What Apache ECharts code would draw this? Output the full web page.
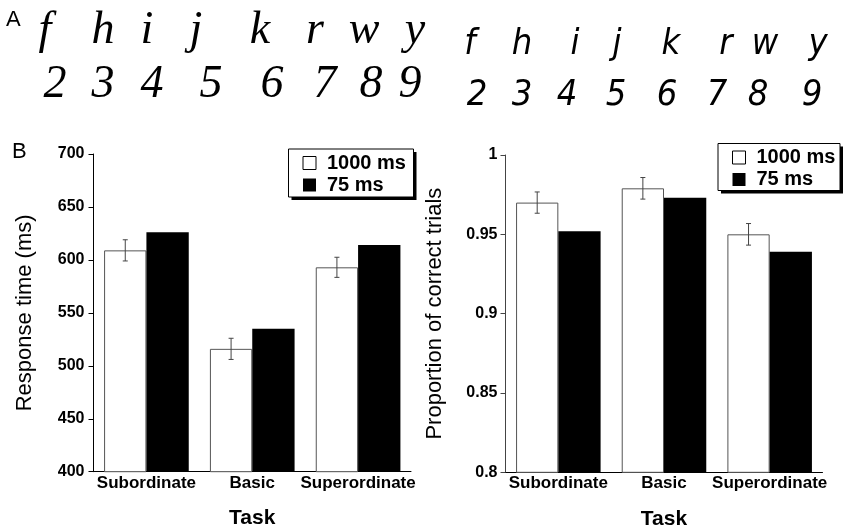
<!DOCTYPE html>
<html>
<head>
<meta charset="utf-8">
<script src="https://cdn.jsdelivr.net/npm/echarts@6/dist/echarts.min.js"></script>
<style>
  html, body { margin: 0; padding: 0; background: #fff; }
  #main { width: 845px; height: 528px; }
</style>
</head>
<body>
<div id="main"></div>
<script>
// task categories
var taskNames = ['Subordinate', 'Basic', 'Superordinate'];
var seriesNames = ['1000 ms', '75 ms'];

// response time (ms)
var rt1000 = [609, 516, 593];
var rt75 = [626, 535, 614];
var rt1000Err = [10, 10, 9.5];

// proportion of correct trials
var acc1000 = [0.970, 0.979, 0.950];
var acc75 = [0.952, 0.973, 0.939];
var acc1000Err = [0.0067, 0.0068, 0.0068];

// panel A glyphs
var letters = ['f', 'h', 'i', 'j', 'k', 'r', 'w', 'y'];
var digits = ['2', '3', '4', '5', '6', '7', '8', '9'];

var chart = echarts.init(document.getElementById('main'));

var labelFont = 'Liberation Sans, Arial, Helvetica, sans-serif';

function errorBar(params, api) {
  var i = api.value(0), v = api.value(1), e = api.value(2);
  var band = api.size([1, 0])[0];
  var cx = api.coord([i, v])[0] - band * 0.2;
  var hi = api.coord([i, v + e])[1];
  var lo = api.coord([i, v - e])[1];
  var st = { stroke: '#444', lineWidth: 1 };
  return {
    type: 'group',
    children: [
      { type: 'line', shape: { x1: cx, y1: hi, x2: cx, y2: lo }, style: st },
      { type: 'line', shape: { x1: cx - 2.5, y1: hi, x2: cx + 2.5, y2: hi }, style: st },
      { type: 'line', shape: { x1: cx - 2.5, y1: lo, x2: cx + 2.5, y2: lo }, style: st }
    ]
  };
}

function errData(vals, errs) {
  var out = [];
  for (var i = 0; i < vals.length; i++) out.push([i, vals[i], errs[i]]);
  return out;
}

// glyph layout for panel A
var scriptLetterX = [45, 103, 147, 196, 260, 315, 364, 415];
var scriptDigitX = [55, 103, 152, 211, 272, 325, 371, 410];
var sansLetterX = [470, 522, 575, 617, 671, 726, 765, 818];
var sansDigitX = [477, 522, 567, 616, 667, 717, 758, 812];

var graphics = [];
function addRow(chars, xs, y, font) {
  for (var i = 0; i < chars.length; i++) {
    graphics.push({
      type: 'text', silent: true,
      style: { text: chars[i], x: xs[i], y: y, font: font, fill: '#000',
               textAlign: 'center', textVerticalAlign: 'middle' }
    });
  }
}
var scriptFont = 'italic 46px "Liberation Serif", "DejaVu Serif", serif';
var sansFont = 'italic 36px "Liberation Sans Narrow", "DejaVu Sans Condensed", "Liberation Sans", sans-serif';
addRow(letters, scriptLetterX, 31, scriptFont);
addRow(digits, scriptDigitX, 85, scriptFont);
addRow(letters, sansLetterX, 45, sansFont);
addRow(digits, sansDigitX, 96, sansFont);
graphics.push({ type: 'text', silent: true,
  style: { text: 'A', x: 6, y: 20, font: '22px ' + labelFont, fill: '#000', textVerticalAlign: 'middle' } });
graphics.push({ type: 'text', silent: true,
  style: { text: 'B', x: 12, y: 152, font: '22px ' + labelFont, fill: '#000', textVerticalAlign: 'middle' } });

// legend frames with a hard drop shadow
function legendFrame(x, y, w, h) {
  graphics.push({ type: 'rect', silent: true, z: 0,
    shape: { x: x + 3, y: y + 3, width: w, height: h }, style: { fill: '#000' } });
  graphics.push({ type: 'rect', silent: true, z: 1,
    shape: { x: x, y: y, width: w, height: h }, style: { fill: '#fff', stroke: '#000', lineWidth: 1 } });
}
legendFrame(288.5, 149, 125, 48);
legendFrame(718, 143.5, 122, 47);

var axisLabelStyle = { color: '#000', fontSize: 17, fontWeight: 'bold', fontFamily: labelFont };
var axisNameStyle = { color: '#000', fontSize: 22, fontFamily: labelFont };
var taskNameStyle = { color: '#000', fontSize: 21, fontWeight: 'bold', fontFamily: labelFont };

function catAxis(idx) {
  return {
    type: 'category', gridIndex: idx, data: taskNames,
    axisLine: { lineStyle: { color: '#000', width: 1 } },
    axisTick: { show: false },
    axisLabel: Object.assign({ margin: 3, interval: 0 }, axisLabelStyle),
    name: 'Task', nameLocation: 'middle', nameGap: 36, nameTextStyle: taskNameStyle
  };
}

function legendBox(left, top) {
  return {
    orient: 'vertical', left: left, top: top, selectedMode: false, z: 10,
    data: [
      { name: seriesNames[0], itemStyle: { color: '#fff', borderColor: '#000', borderWidth: 1 } },
      { name: seriesNames[1], itemStyle: { color: '#000' } }
    ],
    icon: 'rect', itemWidth: 13, itemHeight: 13, itemGap: 2,
    padding: [4, 6, 4, 14],
    textStyle: { color: '#000', fontSize: 20, fontWeight: 'bold', fontFamily: labelFont, padding: [0, 0, 0, 6] }
  };
}

var option = {
  backgroundColor: '#fff',
  animation: false,
  graphic: graphics,
  grid: [
    { left: 93.5, right: 434, top: 154, bottom: 56.3, outerBoundsMode: 'none', containLabel: false },
    { left: 505.5, right: 22.5, top: 155, bottom: 55.7, outerBoundsMode: 'none', containLabel: false }
  ],
  legend: [legendBox(288.5, 149), legendBox(718, 143.5)],
  xAxis: [catAxis(0), catAxis(1)],
  yAxis: [
    {
      type: 'value', gridIndex: 0, min: 400, max: 700, interval: 50,
      axisLine: { show: true, lineStyle: { color: '#000', width: 1 } },
      axisTick: { show: true, length: 5, lineStyle: { color: '#000' } },
      splitLine: { show: false },
      axisLabel: Object.assign({ margin: 9 }, axisLabelStyle, { fontSize: 16 }),
      name: 'Response time (ms)', nameLocation: 'middle', nameGap: 58, nameRotate: 90,
      nameTextStyle: axisNameStyle
    },
    {
      type: 'value', gridIndex: 1, min: 0.8, max: 1, interval: 0.05,
      axisLine: { show: true, lineStyle: { color: '#444', width: 1 } },
      axisTick: { show: true, length: 5, lineStyle: { color: '#444' } },
      splitLine: { show: false },
      axisLabel: Object.assign({ margin: 8 }, axisLabelStyle, { fontSize: 16 }),
      name: 'Proportion of correct trials', nameLocation: 'middle', nameGap: 60, nameRotate: 90,
      nameTextStyle: axisNameStyle
    }
  ],
  series: [
    { name: seriesNames[0], type: 'bar', xAxisIndex: 0, yAxisIndex: 0, data: rt1000,
      barGap: '0%', barCategoryGap: '20%',
      itemStyle: { color: '#fff', borderColor: '#555', borderWidth: 1 } },
    { name: seriesNames[1], type: 'bar', xAxisIndex: 0, yAxisIndex: 0, data: rt75,
      barGap: '0%', barCategoryGap: '20%',
      itemStyle: { color: '#000' } },
    { name: seriesNames[0], type: 'bar', xAxisIndex: 1, yAxisIndex: 1, data: acc1000,
      barGap: '0%', barCategoryGap: '20%',
      itemStyle: { color: '#fff', borderColor: '#555', borderWidth: 1 } },
    { name: seriesNames[1], type: 'bar', xAxisIndex: 1, yAxisIndex: 1, data: acc75,
      barGap: '0%', barCategoryGap: '20%',
      itemStyle: { color: '#000' } },
    { type: 'custom', xAxisIndex: 0, yAxisIndex: 0, z: 5, renderItem: errorBar,
      data: errData(rt1000, rt1000Err) },
    { type: 'custom', xAxisIndex: 1, yAxisIndex: 1, z: 5, renderItem: errorBar,
      data: errData(acc1000, acc1000Err) }
  ]
};

chart.setOption(option);
</script>
</body>
</html>
